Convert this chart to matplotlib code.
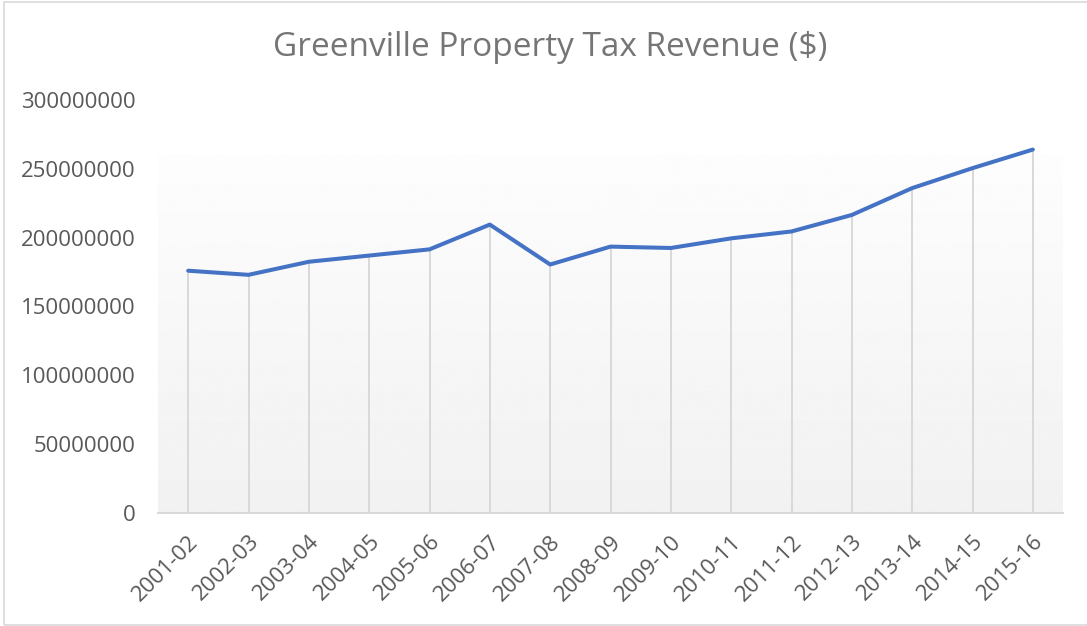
"""
Greenville property tax revenue by fiscal year, drawn as an Excel-style line chart.
"""
import numpy as np
import matplotlib.pyplot as plt
from matplotlib.patches import Rectangle

years = ["2001-02", "2002-03", "2003-04", "2004-05", "2005-06", "2006-07", "2007-08",
         "2008-09", "2009-10", "2010-11", "2011-12", "2012-13", "2013-14", "2014-15", "2015-16"]
revenue = [176000000, 173000000, 182500000, 187000000, 191500000, 209500000, 180500000,
           193500000, 192500000, 199500000, 204500000, 216500000, 236000000, 250500000, 264000000]
y_ticks = [0, 50000000, 100000000, 150000000, 200000000, 250000000, 300000000]

plt.rcParams['font.family'] = ['Open Sans', 'DejaVu Sans']

fig = plt.figure(figsize=(10.87, 6.26), dpi=100)
ax = fig.add_axes([158 / 1087, 1 - 513 / 626, 905 / 1087, 413 / 626])

x = np.arange(len(years))
ax.set_xlim(-0.5, len(years) - 0.5)
ax.set_ylim(0, 300000000)

# plot area background: white at the top fading to light gray at the bottom
grad = np.linspace(0.992, 0.945, 256).reshape(-1, 1)
ax.imshow(grad, cmap='gray', vmin=0, vmax=1, aspect='auto',
          extent=(-0.5, len(years) - 0.5, 0, 260000000), zorder=0)

# drop lines from each point down to the axis
ax.vlines(x, 0, revenue, color='#d9d9d9', lw=1.4, zorder=1)
ax.plot(x, revenue, color='#4472c4', lw=2.9, solid_capstyle='round',
        solid_joinstyle='round', zorder=3)

for side in ['top', 'right', 'left']:
    ax.spines[side].set_visible(False)
ax.spines['bottom'].set_color('#d9d9d9')
ax.spines['bottom'].set_linewidth(1.4)

ax.set_yticks(y_ticks)
ax.set_yticklabels([str(v) for v in y_ticks])
ax.set_xticks(x)
ax.set_xticklabels(years, rotation=45, ha='right', rotation_mode='anchor')
ax.tick_params(axis='y', length=0, pad=16, labelsize=16, labelcolor='#595959')
ax.tick_params(axis='x', length=0, pad=13, labelsize=16, labelcolor='#595959')

fig.text(0.506, 1 - 47 / 626, "Greenville Property Tax Revenue ($)", ha='center', va='center',
         fontsize=24, color='#757575')

# chart border
fig.patches.append(Rectangle((4 / 1087, 1 / 626), 1.0, 1 - 3 / 626, transform=fig.transFigure,
                             fill=False, edgecolor='#d9d9d9', lw=1.2))

fig.savefig('out.png', dpi=100)
